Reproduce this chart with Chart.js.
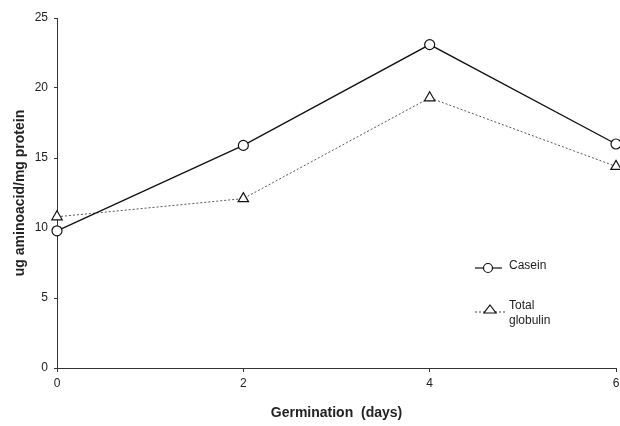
<!DOCTYPE html>
<html><head><meta charset="utf-8">
<script src="https://cdn.jsdelivr.net/npm/chart.js@4/dist/chart.umd.min.js"></script>
<style>html,body{margin:0;padding:0;background:#fff}#wrap{width:620px;height:426px}</style>
</head><body><div id="wrap"><canvas id="c" width="620" height="426"></canvas></div>
<script>
const days = [0, 2, 4, 6];
const casein = [9.8, 15.9, 23.1, 16.0];
const globulin = [10.8, 12.1, 19.3, 14.4];
const seriesNames = ['Casein', 'Total globulin'];
const yTicks = [0, 5, 10, 15, 20, 25];
const xTicks = [0, 2, 4, 6];

const FONT = 'Liberation Sans, Arial, sans-serif';

const legendPlugin = {
  id: 'inlegend',
  afterDatasetsDraw(chart) {
    const ctx = chart.ctx;
    ctx.save();
    ctx.font = '12px ' + FONT;
    ctx.fillStyle = '#222';
    ctx.textBaseline = 'middle';
    // Casein
    ctx.strokeStyle = '#111'; ctx.lineWidth = 1.2; ctx.setLineDash([]);
    ctx.beginPath(); ctx.moveTo(475, 268); ctx.lineTo(502, 268); ctx.stroke();
    ctx.fillStyle = '#fff';
    ctx.beginPath(); ctx.arc(488, 268, 4.5, 0, Math.PI * 2); ctx.fill(); ctx.stroke();
    ctx.fillStyle = '#222';
    ctx.fillText(seriesNames[0], 509, 266);
    // Globulin
    ctx.strokeStyle = '#444'; ctx.lineWidth = 1; ctx.setLineDash([2, 2]);
    ctx.beginPath(); ctx.moveTo(475, 312); ctx.lineTo(507, 312); ctx.stroke();
    ctx.setLineDash([]); ctx.strokeStyle = '#111'; ctx.lineWidth = 1.2;
    ctx.fillStyle = '#fff';
    ctx.beginPath(); ctx.moveTo(490, 305); ctx.lineTo(496, 313); ctx.lineTo(484, 313); ctx.closePath(); ctx.fill(); ctx.stroke();
    ctx.fillStyle = '#222';
    ctx.fillText('Total', 509, 306);
    ctx.fillText('globulin', 509, 321);
    ctx.restore();
  }
};

new Chart(document.getElementById('c'), {
  type: 'line',
  data: {
    datasets: [
      {
        label: seriesNames[0],
        data: days.map((d, i) => ({x: d, y: casein[i]})),
        borderColor: '#111', borderWidth: 1.3,
        pointStyle: 'circle', pointRadius: 5, pointBorderWidth: 1.2,
        pointBackgroundColor: '#fff', pointBorderColor: '#111',
        tension: 0, clip: false
      },
      {
        label: seriesNames[1],
        data: days.map((d, i) => ({x: d, y: globulin[i]})),
        borderColor: '#555', borderWidth: 1, borderDash: [2, 2],
        pointStyle: 'triangle', pointRadius: 6, pointBorderWidth: 1.2,
        pointBackgroundColor: '#fff', pointBorderColor: '#111',
        tension: 0, clip: false
      }
    ]
  },
  options: {
    responsive: false,
    animation: false,
    layout: { autoPadding: false, padding: { top: 18, right: 4, left: 8, bottom: 0 } },
    plugins: { legend: { display: false }, tooltip: { enabled: false } },
    scales: {
      x: {
        type: 'linear', min: 0, max: 6,
        afterBuildTicks: s => { s.ticks = xTicks.map(v => ({value: v})); },
        grid: { display: true, drawOnChartArea: false, drawTicks: true, tickLength: 4, color: '#333' },
        border: { color: '#333', width: 1 },
        ticks: { color: '#222', font: { family: FONT, size: 12 }, padding: 4, maxRotation: 0 },
        title: { display: true, text: 'Germination  (days)', color: '#222', font: { family: FONT, size: 14, weight: 'bold' }, padding: { top: 14 } },
        afterFit: s => { s.height = 58; s.paddingRight = 0; s.paddingLeft = 0; }
      },
      y: {
        min: 0, max: 25,
        afterBuildTicks: s => { s.ticks = yTicks.map(v => ({value: v})); },
        grid: { display: true, drawOnChartArea: false, drawTicks: true, tickLength: 3, color: '#333' },
        border: { color: '#333', width: 1 },
        ticks: { color: '#222', font: { family: FONT, size: 12 }, padding: 6 },
        title: { display: true, text: 'ug aminoacid/mg protein', color: '#222', font: { family: FONT, size: 14, weight: 'bold' }, padding: { bottom: 4 } },
        afterFit: s => { s.width = 49; s.paddingTop = 0; s.paddingBottom = 0; }
      }
    }
  },
  plugins: [legendPlugin]
});
</script>
</body></html>
